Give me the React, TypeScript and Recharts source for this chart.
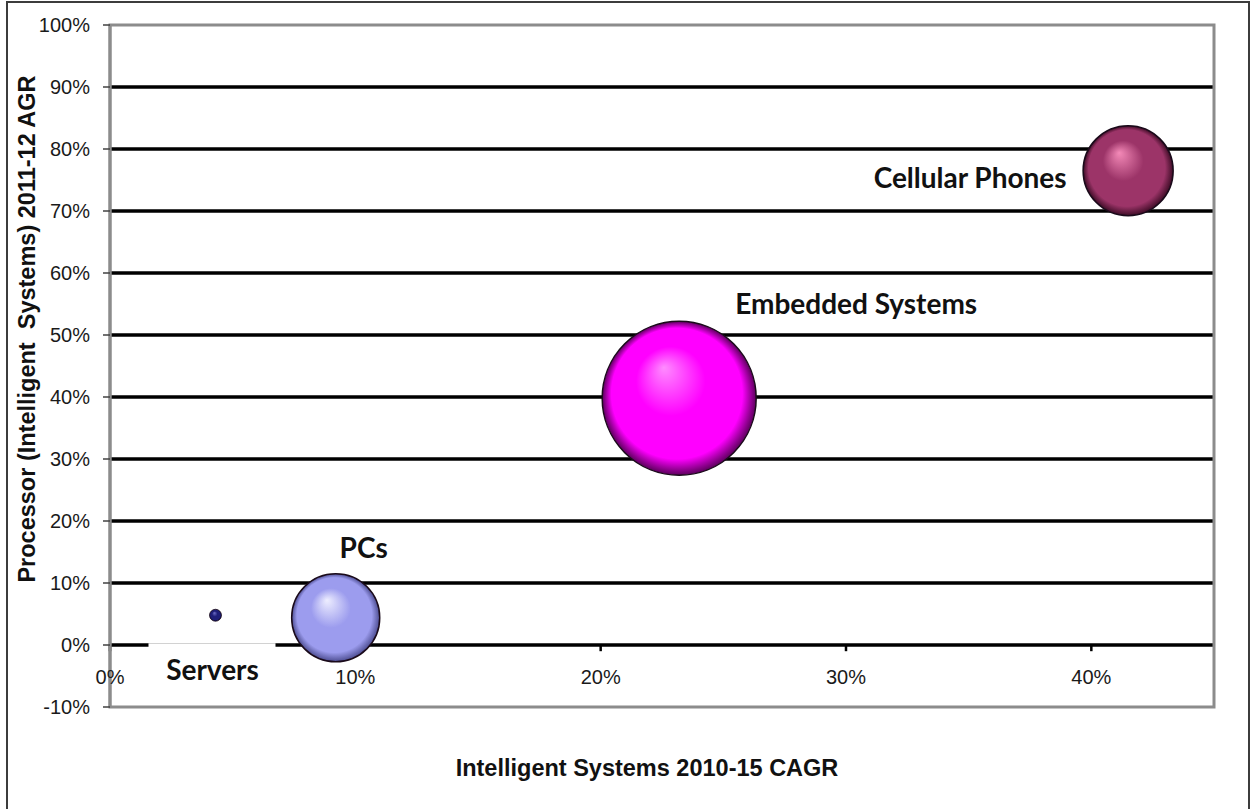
import { ScatterChart, Scatter, XAxis, YAxis, ZAxis, CartesianGrid, ReferenceArea, ReferenceLine } from 'recharts';

// bubble series
const names = ['Servers', 'PCs', 'Embedded Systems', 'Cellular Phones'];
const cagr = [4.3, 9.2, 23.2, 41.5];
const agr = [4.8, 4.4, 39.8, 76.5];
const sizes = [0.6, 32.7, 100, 34.2];

const xTicks = [0, 10, 20, 30, 40];
const yTicks = [-10, 0, 10, 20, 30, 40, 50, 60, 70, 80, 90, 100];
const gridLines = [0, 10, 20, 30, 40, 50, 60, 70, 80, 90];

// sphere shading: highlight, body, rim
const palette = [
  { hi: '#6f6fc8', base: '#1f1f78', rim: '#0a0a3a' },
  { hi: '#eeeeff', base: '#9c9cee', rim: '#4c4c90' },
  { hi: '#ff8cff', base: '#ff00ff', rim: '#5c005c' },
  { hi: '#f48ab8', base: '#9c3468', rim: '#3e0c26' },
];

// label placement relative to bubble centre
const labelOffsets = [
  { dx: -3, dy: 55, box: true },
  { dx: 28, dy: -70, box: false },
  { dx: 177, dy: -94, box: false },
  { dx: -158, dy: 7, box: false },
];

const series = names.map((name, i) => ({
  name,
  data: [{ x: cagr[i], y: agr[i], z: sizes[i], name }],
}));

const MAX_R = 77;

function makeSphere(i: number) {
  return (props: any) => {
    const { cx, cy, size, width } = props;
    const r = width ? width / 2 : Math.sqrt(Math.max(size || 0, 0) / Math.PI);
    const c = palette[i];
    const off = labelOffsets[i];
    const id = `sphere-${i}`;
    const lx = cx + off.dx;
    const ly = cy + off.dy;
    return (
      <g>
        <defs>
          <radialGradient id={id} cx="50%" cy="50%" r="50%" fx="40%" fy="30%">
            <stop offset="0%" stopColor={c.hi} />
            <stop offset="45%" stopColor={c.base} />
            <stop offset="85%" stopColor={c.base} />
            <stop offset="100%" stopColor={c.rim} />
          </radialGradient>
        </defs>
        <circle cx={cx} cy={cy} r={r} fill={`url(#${id})`} stroke="#1a0a1a" strokeWidth={r > 10 ? 1.5 : 0.8} />
        {off.box && <rect x={lx - 64} y={ly - 27} width={127} height={56} fill="#ffffff" />}
        <text
          x={lx}
          y={ly}
          dy="0.36em"
          textAnchor="middle"
          fontFamily="Lato, 'Open Sans', sans-serif"
          fontWeight={700}
          fontSize={28}
          fill="#111111"
        >
          {names[i]}
        </text>
      </g>
    );
  };
}

function XTick(props: any) {
  const { x, y, payload } = props;
  return (
    <text
      x={x}
      y={y - 30}
      dy="0.36em"
      textAnchor="middle"
      fontFamily="'Liberation Sans', Arial, sans-serif"
      fontSize={20}
      fill="#1a1a1a"
    >
      {`${payload.value}%`}
    </text>
  );
}

export default function App() {
  return (
    <div style={{ position: 'absolute', left: 0, top: 0, width: 1256, height: 809, background: '#ffffff', overflow: 'hidden' }}>
      <div
        style={{
          position: 'absolute',
          left: 6,
          top: 1,
          width: 1244,
          height: 820,
          border: '2px solid #3c3c3c',
          boxSizing: 'border-box',
        }}
      />
      <div style={{ position: 'absolute', left: 0, top: 0 }}>
        <ScatterChart width={1256} height={809} margin={{ top: 25, right: 42, bottom: 62, left: 10 }}>
          <CartesianGrid vertical={false} stroke="#000000" strokeWidth={3.5} horizontalValues={gridLines} />
          <XAxis
            type="number"
            dataKey="x"
            domain={[0, 45]}
            ticks={xTicks}
            axisLine={false}
            tickLine={false}
            tickSize={0}
            tickMargin={0}
            height={40}
            tick={<XTick />}
          />
          <YAxis
            type="number"
            dataKey="y"
            domain={[-10, 100]}
            ticks={yTicks}
            tickFormatter={(v: number) => `${v}%`}
            axisLine={{ stroke: '#8c8c8c', strokeWidth: 3 }}
            tickLine={{ stroke: '#404040', strokeWidth: 1.5 }}
            tickSize={7}
            tickMargin={13}
            width={100}
            tick={{ fontFamily: "'Liberation Sans', Arial, sans-serif", fontSize: 20, fill: '#1a1a1a' }}
          />
          <ZAxis type="number" dataKey="z" domain={[0, 100]} range={[0, Math.PI * MAX_R * MAX_R]} />
          <ReferenceArea x1={0} x2={45} y1={-10} y2={100} fill="none" stroke="#8c8c8c" strokeWidth={3} />
          {xTicks.map((t) => (
            <ReferenceLine
              key={t}
              segment={[
                { x: t, y: 0 },
                { x: t, y: -1 },
              ]}
              stroke="#000000"
              strokeWidth={2.5}
            />
          ))}
          {series.map((s, i) => (
            <Scatter
              key={s.name}
              name={s.name}
              data={s.data}
              fill={palette[i].base}
              shape={makeSphere(i)}
              isAnimationActive={false}
            />
          ))}
        </ScatterChart>
      </div>
      <div
        style={{
          position: 'absolute',
          left: 647,
          top: 768,
          transform: 'translate(-50%, -50%)',
          whiteSpace: 'nowrap',
          fontFamily: "'Liberation Sans', Arial, sans-serif",
          fontWeight: 700,
          fontSize: 23.5,
          color: '#111111',
        }}
      >
        Intelligent Systems 2010-15 CAGR
      </div>
      <div
        style={{
          position: 'absolute',
          left: 27,
          top: 329,
          transform: 'translate(-50%, -50%) rotate(-90deg)',
          whiteSpace: 'pre',
          fontFamily: "'Liberation Sans', Arial, sans-serif",
          fontWeight: 700,
          fontSize: 23.5,
          color: '#111111',
        }}
      >
        Processor (Intelligent  Systems) 2011-12 AGR
      </div>
    </div>
  );
}
